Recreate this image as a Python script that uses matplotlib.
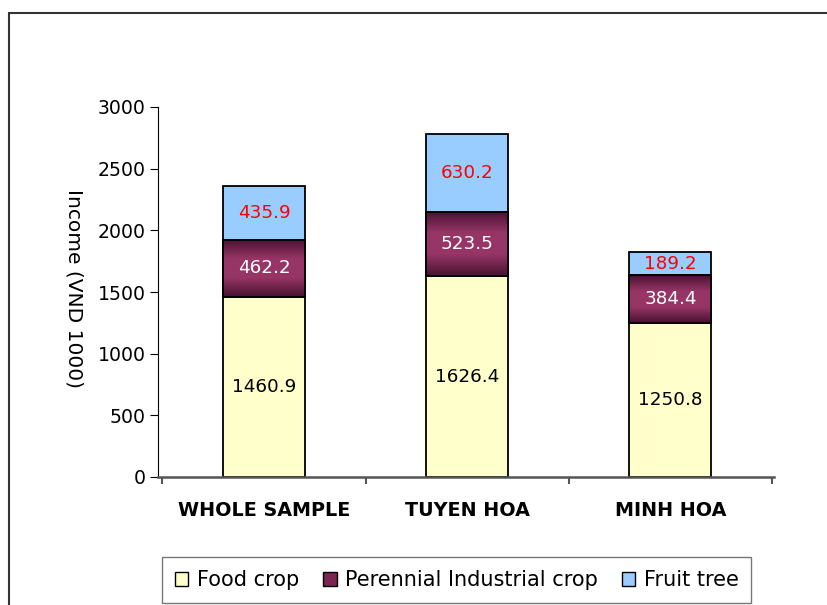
import numpy as np
import matplotlib.pyplot as plt
from matplotlib.patches import Rectangle, Patch
from matplotlib.colors import LinearSegmentedColormap

plt.rcParams['font.family'] = ['DejaVu Sans']

categories = ['WHOLE SAMPLE', 'TUYEN HOA', 'MINH HOA']
food = [1460.9, 1626.4, 1250.8]
perennial = [462.2, 523.5, 384.4]
fruit = [435.9, 630.2, 189.2]
series = ['Food crop', 'Perennial Industrial crop', 'Fruit tree']

c_food = '#FFFFCC'
c_per = '#8E2F5E'
c_fruit = '#99CCFF'

fig = plt.figure(figsize=(8.28, 6.05), dpi=100)
ax = fig.add_axes([158/828, 1-477/605, (774-158)/828, (477-107)/605])

x = np.arange(len(categories))
w = 0.404
bottom2 = np.array(food) + np.array(perennial)

b1 = ax.bar(x, food, w, color=c_food, edgecolor='black', linewidth=1.3, zorder=2)
b2 = ax.bar(x, perennial, w, bottom=food, color=c_per, edgecolor='black', linewidth=1.3, zorder=2)
b3 = ax.bar(x, fruit, w, bottom=bottom2, color=c_fruit, edgecolor='black', linewidth=1.3, zorder=2)

# purple segments: dark at top and bottom, lighter in the middle
cmap = LinearSegmentedColormap.from_list('pg', ['#481330', '#963566', '#963566', '#481330'])
grad = np.linspace(0, 1, 100).reshape(-1, 1)
for r in b2:
    xx, yy = r.get_x(), r.get_y()
    im = ax.imshow(grad, cmap=cmap, aspect='auto', zorder=2.5,
                   extent=[xx, xx + r.get_width(), yy, yy + r.get_height()])
    im.set_clip_path(r)
    ax.add_patch(Rectangle((xx, yy), r.get_width(), r.get_height(), fill=False,
                           edgecolor='black', linewidth=1.3, zorder=3))

fs = 13.2
for i in range(len(categories)):
    ax.text(x[i], food[i] / 2, f'{food[i]:.1f}', ha='center', va='center', fontsize=fs, color='black', zorder=4)
    ax.text(x[i], food[i] + perennial[i] / 2, f'{perennial[i]:.1f}', ha='center', va='center', fontsize=fs, color='white', zorder=4)
    ax.text(x[i], bottom2[i] + fruit[i] / 2, f'{fruit[i]:.1f}', ha='center', va='center', fontsize=fs, color='#FF0000', zorder=4)

ax.set_xlim(-0.522, 2.51)
ax.set_ylim(0, 3000)
ax.set_yticks(np.arange(0, 3001, 500))
ax.set_xticks(x)
ax.set_xticks([-0.5, 0.5, 1.5, 2.5], minor=True)
ax.set_xticklabels(categories, fontweight='bold', fontsize=13.8)
ax.tick_params(axis='y', labelsize=13.6, direction='out', length=6, pad=3)
ax.tick_params(axis='x', which='major', length=0, pad=17)
ax.tick_params(axis='x', which='minor', length=5, color='#555555', width=1.5)
ax.spines['top'].set_visible(False)
ax.spines['right'].set_visible(False)
ax.spines['bottom'].set_color('#555555')
ax.spines['bottom'].set_linewidth(1.8)
ax.set_ylabel('Income (VND 1000)', fontsize=14.5, rotation=270, va='center')
ax.yaxis.set_label_coords((74 - 158) / 616, 0.51)

handles = [Patch(facecolor=c_food, edgecolor='black'),
           Patch(facecolor='#7A2650', edgecolor='black'),
           Patch(facecolor=c_fruit, edgecolor='black')]
leg = fig.legend(handles, series, ncol=3, loc='lower left',
                 bbox_to_anchor=(162/828, 2/605), fontsize=15,
                 frameon=True, fancybox=False, edgecolor='#555555',
                 handlelength=0.65, handleheight=0.65, handletextpad=0.4,
                 columnspacing=1.15, borderpad=0.62, borderaxespad=0)
leg.get_frame().set_linewidth(1.0)

fig.patches.append(Rectangle((9/828, -0.1), 1.0, 1 - 13/605 + 0.1, transform=fig.transFigure,
                             fill=False, edgecolor='#333333', linewidth=1.5))

fig.savefig('out.png', dpi=100)
